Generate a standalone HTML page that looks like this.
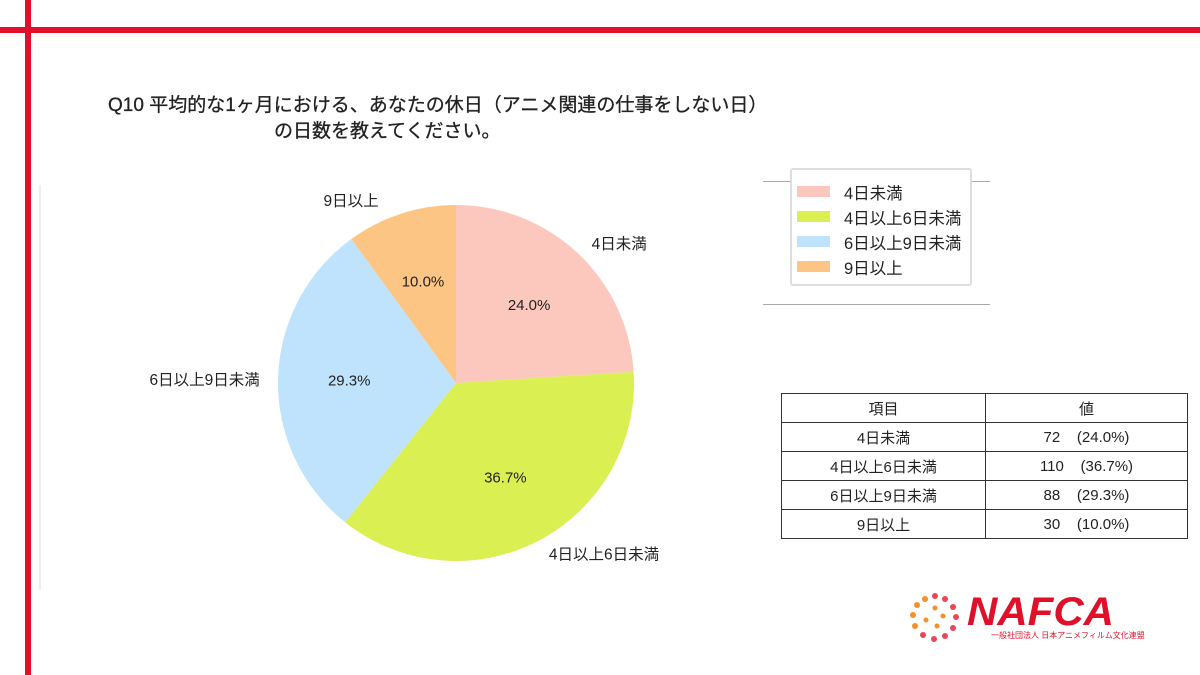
<!DOCTYPE html>
<html><head><meta charset="utf-8"><style>
body{margin:0;width:1200px;height:675px;background:#fff;position:relative;overflow:hidden;font-family:"Liberation Sans","Noto Sans CJK JP",sans-serif;color:#222}
.abs{position:absolute}
table{border-collapse:collapse;font-size:15px}
td{border:1.5px solid #333;text-align:center;height:28px;padding:0}
</style></head><body>
<div class="abs" style="left:0;top:27px;width:1200px;height:6px;background:#e0102a"></div>
<div class="abs" style="left:25px;top:0;width:6px;height:675px;background:#e0102a"></div>
<div class="abs" style="left:108px;top:93px;font-size:19px;line-height:26px;-webkit-text-stroke:0.3px #222">Q10 平均的な1ヶ月における、あなたの休日（アニメ関連の仕事をしない日）<br><span style="margin-left:166px">の日数を教えてください。</span></div>
<svg class="abs" style="left:0;top:0" width="1200" height="675">
<line x1="40" y1="185" x2="40" y2="590" stroke="#ddd"/>
<g id="pie"></g>
</svg>
<div class="abs" style="left:763px;top:181px;width:227px;height:1px;background:#aaa"></div>
<div class="abs" style="left:763px;top:304px;width:227px;height:1px;background:#aaa"></div>
<div class="abs" style="left:790px;top:168px;width:178px;height:114px;border:2px solid #ddd;border-radius:3px;background:#fff;font-size:16.5px">
<div id="leg" style="margin-top:9px"></div></div>
<table class="abs" style="left:781px;top:393px;width:407px">
<tr><td style="width:203px">項目</td><td>値</td></tr>
<tbody id="tb"></tbody></table>
<div class="abs" style="left:905px;top:588px;width:250px;height:60px">
<svg width="60" height="56" style="position:absolute;left:0;top:0">
<g fill="#e8465a"><circle cx="30" cy="8" r="3"/><circle cx="40" cy="11" r="3"/><circle cx="48" cy="19" r="3"/><circle cx="51" cy="29" r="3"/><circle cx="48" cy="40" r="3"/><circle cx="40" cy="48" r="3"/><circle cx="29" cy="51" r="3"/><circle cx="18" cy="47" r="3"/></g>
<g fill="#f5902a"><circle cx="10" cy="38" r="3"/><circle cx="8" cy="27" r="3"/><circle cx="12" cy="17" r="3"/><circle cx="20" cy="11" r="3"/><circle cx="30" cy="20" r="2.5"/><circle cx="38" cy="28" r="2.5"/><circle cx="32" cy="38" r="2.5"/><circle cx="21" cy="32" r="2.5"/></g></svg>
<div style="position:absolute;left:62px;top:2px;font-size:40px;font-weight:bold;font-style:italic;color:#e0102a;letter-spacing:0px;transform:scaleX(1.05);transform-origin:left">NAFCA</div>
<div style="position:absolute;left:86px;top:42px;font-size:8px;color:#e0102a">一般社団法人 日本アニメフィルム文化連盟</div>
</div>
<script>
const categories=["4日未満","4日以上6日未満","6日以上9日未満","9日以上"];
const counts=[72,110,88,30];
const percents=[24.0,36.7,29.3,10.0];
const colors=["#fcc8bd","#d9ef52","#bfe3fc","#fdc584"];
const NS="http://www.w3.org/2000/svg";
const cx=456,cy=383,r=178;
const g=document.getElementById("pie");
const total=percents.reduce((a,b)=>a+b,0);
let a0=0;
percents.forEach((p,i)=>{
 const a1=a0+p/total*2*Math.PI;
 const pt=(a,rr)=>[cx+rr*Math.sin(a),cy-rr*Math.cos(a)];
 const [x0,y0]=pt(a0,r),[x1,y1]=pt(a1,r);
 const path=document.createElementNS(NS,"path");
 path.setAttribute("d",`M${cx},${cy}L${x0},${y0}A${r},${r} 0 ${a1-a0>Math.PI?1:0} 1 ${x1},${y1}Z`);
 path.setAttribute("fill",colors[i]);
 
 
 g.appendChild(path);
 const m=(a0+a1)/2;
 const [lx,ly]=pt(m,r*0.6);
 const t=document.createElementNS(NS,"text");
 t.setAttribute("x",lx);t.setAttribute("y",ly+5);t.setAttribute("text-anchor","middle");t.setAttribute("font-size","15");t.setAttribute("fill","#222");
 t.textContent=percents[i].toFixed(1)+"%";
 
 
 g.appendChild(t);
 const [ox,oy]=pt(m,r*1.08);
 const o=document.createElementNS(NS,"text");
 const right=Math.sin(m)>0;
 const topAdj=(!right&&Math.cos(m)>0.8)?-14:0;
 o.setAttribute("x",ox+(right?4:-4)+topAdj);o.setAttribute("y",oy+6);
 o.setAttribute("text-anchor",right?"start":"end");o.setAttribute("font-size","15.5");o.setAttribute("fill","#222");
 o.setAttribute("font-family",'"Liberation Sans","Noto Sans CJK JP",sans-serif');
 o.textContent=categories[i];
 
 
 g.appendChild(o);
 a0=a1;
});
const leg=document.getElementById("leg");
categories.forEach((c,i)=>{
 const d=document.createElement("div");
 d.style.cssText="height:25px;display:flex;align-items:center";
 d.innerHTML=`<span style="display:inline-block;width:33px;height:11px;background:${colors[i]};margin:0 14px 0 5px"></span>${c}`;
 
 
 leg.appendChild(d);
});
const tb=document.getElementById("tb");
categories.forEach((c,i)=>{
 const tr=document.createElement("tr");
 tr.innerHTML=`<td>${c}</td><td>${counts[i]}&nbsp;&nbsp;&nbsp;&nbsp;(${percents[i].toFixed(1)}%)</td>`;
 
 
 tb.appendChild(tr);
});
</script>
</body></html>
